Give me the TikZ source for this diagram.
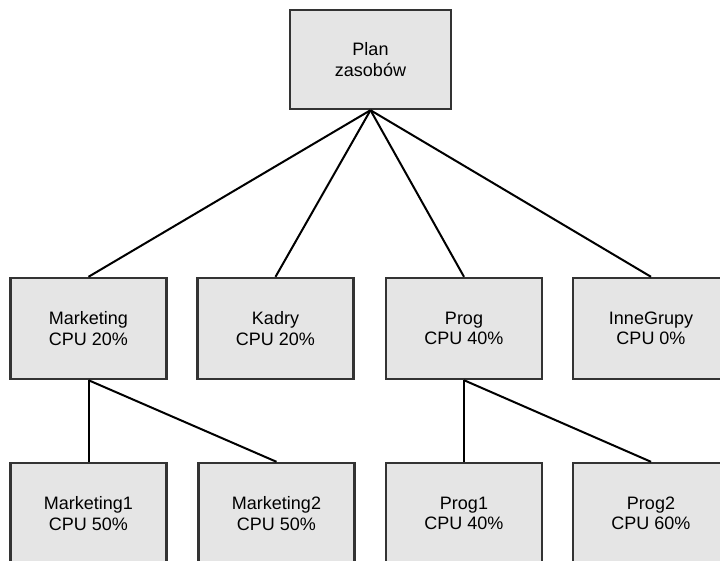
\documentclass[tikz,border=0pt]{standalone}
\usepackage{fontspec}
\setmainfont{Liberation Sans}
\usetikzlibrary{positioning}

\begin{document}
\begin{tikzpicture}[x=1pt, y=-1pt,
  caja/.style={draw=black!80, line width=2.4pt, fill=black!10,
    minimum width=156pt, minimum height=101pt, inner sep=0pt,
    align=center, font=\fontsize{18}{20.5}\selectfont},
  rama/.style={line width=2pt, black}]
  % Marco
  \clip (0,0) rectangle (720,560);

  % Raiz
  \node[caja, minimum width=161pt, minimum height=99pt] (plan) at (370.5,59.5) {Plan\\zasobów};

  % Grupos
  \node[caja] (mark) at (88.5,328.5) {Marketing\\CPU 20\%};
  \node[caja] (kadry) at (275.5,328.5) {Kadry\\CPU 20\%};
  \node[caja] (prog) at (464,328.5) {Prog\\CPU 40\%};
  \node[caja] (inne) at (651,328.5) {InneGrupy\\CPU 0\%};

  % Subgrupos
  \node[caja] (mark1) at (88.5,513.5) {Marketing1\\CPU 50\%};
  \node[caja] (mark2) at (276.5,513.5) {Marketing2\\CPU 50\%};
  \node[caja] (prog1) at (464,513.5) {Prog1\\CPU 40\%};
  \node[caja] (prog2) at (651,513.5) {Prog2\\CPU 60\%};

  % Ramas de la raiz
  \foreach \g in {mark, kadry, prog, inne}
    \draw[rama] (plan.south) -- (\g.north);

  % Ramas de los grupos
  \draw[rama] (mark.south) -- (mark1.north);
  \draw[rama] (mark.south) -- (mark2.north);
  \draw[rama] (prog.south) -- (prog1.north);
  \draw[rama] (prog.south) -- (prog2.north);

\end{tikzpicture}
\end{document}
